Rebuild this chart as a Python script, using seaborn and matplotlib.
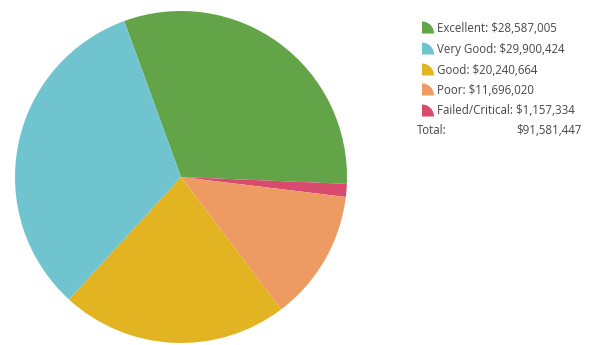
import matplotlib
matplotlib.use("Agg")
import matplotlib.pyplot as plt
from matplotlib.patches import Wedge
import seaborn as sns

# Condition categories and their dollar values (legend order)
categories = ["Excellent", "Very Good", "Good", "Poor", "Failed/Critical"]
values = [28587005, 29900424, 20240664, 11696020, 1157334]
colors = ["#62a447", "#70c4cf", "#e3b422", "#ee9b63", "#d84b6f"]
total_label = "$91,581,447"

# Wedges are drawn clockwise in this order from the top-left
wedge_order = ["Excellent", "Failed/Critical", "Poor", "Good", "Very Good"]

sns.set_theme(style="white")
plt.rcParams["font.family"] = ["Open Sans", "DejaVu Sans"]

W, H = 592, 345
fig = plt.figure(figsize=(W / 100, H / 100), dpi=100)
fig.patch.set_facecolor("white")

cx, cy, r = 181, 177, 166
ax = fig.add_axes([(cx - r) / W, (H - cy - r) / H, 2 * r / W, 2 * r / H])
idx = [categories.index(c) for c in wedge_order]
ax.pie([values[i] for i in idx], colors=[colors[i] for i in idx],
       startangle=110, counterclock=False, radius=1,
       wedgeprops=dict(linewidth=0))
ax.set_xlim(-1, 1)
ax.set_ylim(-1, 1)
ax.set_aspect("equal")
ax.axis("off")

# Legend drawn in pixel coordinates
lax = fig.add_axes([0, 0, 1, 1], facecolor="none")
lax.set_xlim(0, W)
lax.set_ylim(H, 0)
lax.axis("off")

txt_color = "#474747"
fs = 8.3
row_y = [28, 49, 70, 90, 111]
for cat, val, col, y in zip(categories, values, colors, row_y):
    # small quarter-circle marker, anchored at its bottom-left corner
    lax.add_patch(Wedge((422, y + 5.5), 12, -90, 0, facecolor=col, edgecolor="none"))
    lax.text(437, y, f"{cat}: ${val:,}", fontsize=fs, color=txt_color,
             va="center", ha="left")
lax.text(417, 131, "Total:", fontsize=fs, color=txt_color, va="center", ha="left")
lax.text(582, 131, total_label, fontsize=fs, color=txt_color, va="center", ha="right")

fig.savefig("out.png", dpi=100, facecolor="white")
